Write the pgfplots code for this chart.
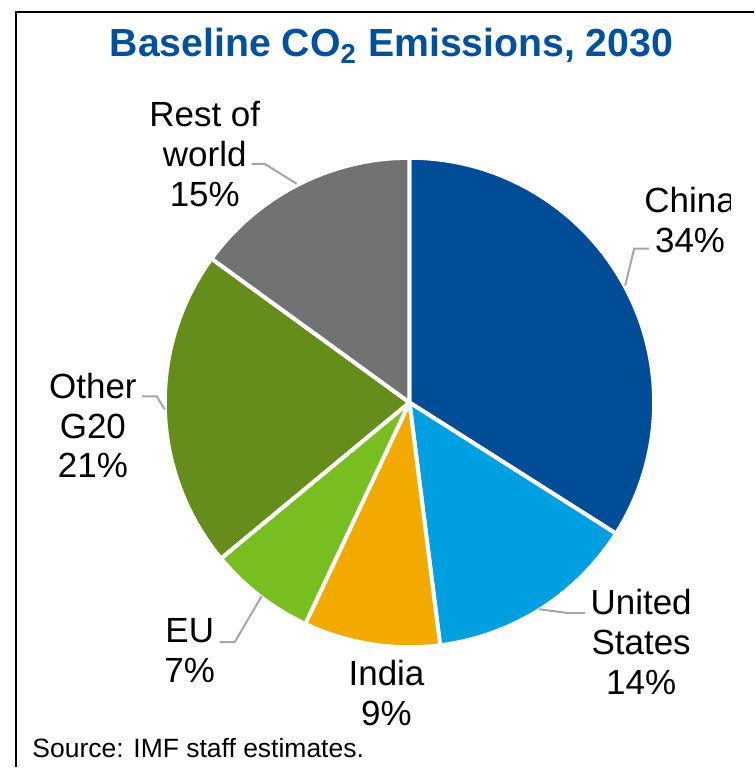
\documentclass[border=0pt]{standalone}
\usepackage{pgfplots}
\pgfplotsset{compat=1.18}
\usepackage{pgfplotstable}
\usepackage{fontspec}
\setmainfont{Liberation Sans}
\definecolor{slice0}{RGB}{0,76,151}
\definecolor{slice1}{RGB}{0,159,223}
\definecolor{slice2}{RGB}{242,169,0}
\definecolor{slice3}{RGB}{120,190,32}
\definecolor{slice4}{RGB}{101,141,27}
\definecolor{slice5}{RGB}{112,115,114}
\definecolor{titleblue}{RGB}{0,80,155}
\definecolor{leader}{RGB}{166,166,166}
\pgfplotstableread[col sep=comma]{
name,value
China,34
United States,14
India,9
EU,7
Other G20,21
Rest of world,15
}\shares
\begin{document}
\begin{tikzpicture}
\begin{axis}[
  x=0.4pt, y=0.4pt, scale only axis,
  xmin=0, xmax=755, ymin=0, ymax=768, y dir=reverse,
  hide axis, clip=false,
]
\pgfplotsextra{
  \xdef\startang{90}
  \pgfplotstableforeachcolumnelement{value}\of\shares\as\v{%
    \pgfmathparse{\startang-3.6*\v}\xdef\endang{\pgfmathresult}%
    \fill[fill=slice\pgfplotstablerow, draw=white, line width=1.6pt, line join=round]
      (axis cs:410,403) -- ++(\startang:98pt) arc[start angle=\startang, end angle=\endang, radius=98pt] -- cycle;
    \xdef\startang{\endang}%
  }
}
% frame
\draw[black, line width=0.8pt] (axis cs:755,12) -- (axis cs:16,12) -- (axis cs:16,768);
% title
\node[font=\fontsize{15.7}{19}\selectfont\bfseries, text=titleblue] at (axis cs:392,46) {Baseline CO\textsubscript{2} Emissions, 2030};
% leaders
\draw[leader, line width=0.8pt] (axis cs:252,164) -- (axis cs:265,164) -- (axis cs:297,184);
\draw[leader, line width=0.8pt] (axis cs:650,249) -- (axis cs:635,249) -- (axis cs:626,286);
\draw[leader, line width=0.8pt] (axis cs:540,610) -- (axis cs:570,614) -- (axis cs:586,614);
\draw[leader, line width=0.8pt] (axis cs:220,643) -- (axis cs:235,643) -- (axis cs:262,597);
\draw[leader, line width=0.8pt] (axis cs:142,397) -- (axis cs:157,397) -- (axis cs:165,410);
% labels
\tikzset{lbl/.style={align=center, inner sep=0pt, font=\fontsize{14}{16}\selectfont}}
\pgfplotsextra{
  \begin{scope}
    \clip (axis cs:0,0) rectangle (axis cs:731,768);
    \node[lbl] at (axis cs:691,220) {China\\34\%};
  \end{scope}
}
\node[lbl] at (axis cs:205,154) {Rest of\\world\\15\%};
\node[lbl] at (axis cs:642,643) {United\\States\\14\%};
\node[lbl] at (axis cs:387,694) {India\\9\%};
\node[lbl] at (axis cs:190,651) {EU\\7\%};
\node[lbl] at (axis cs:93,426) {Other\\G20\\21\%};
\node[anchor=west, inner sep=0pt, font=\fontsize{10.6}{12}\selectfont] at (axis cs:32,749) {Source: IMF staff estimates.};
\end{axis}
\end{tikzpicture}
\end{document}
